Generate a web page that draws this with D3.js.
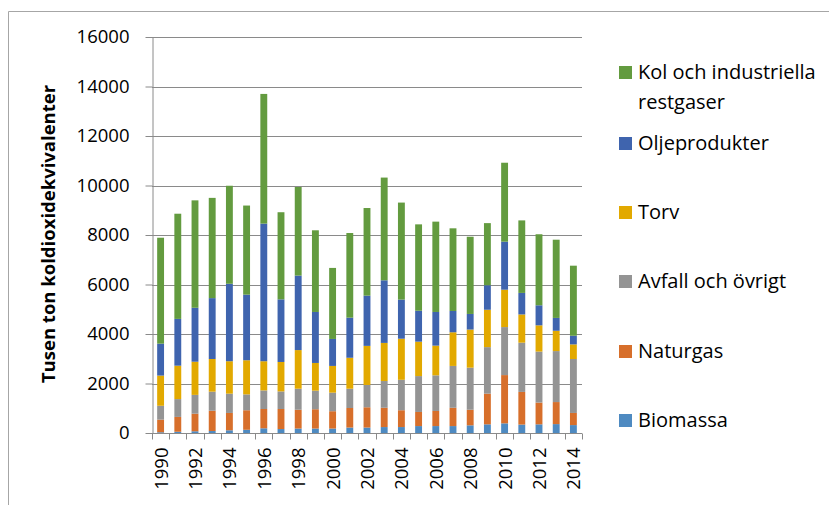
<!DOCTYPE html>
<html>
<head>
<meta charset="utf-8">
<script src="https://cdn.jsdelivr.net/npm/d3@7"></script>
<style>
  body { margin: 0; background: #fff; }
  svg { display: block; font-family: "Open Sans", "Liberation Sans", sans-serif; }
</style>
</head>
<body>
<svg id="chart" width="829" height="505"></svg>
<script>
const years = d3.range(1990, 2015).map(String);
const yTicks = [0, 2000, 4000, 6000, 8000, 10000, 12000, 14000, 16000];

// values, thousand tonnes CO2-eq
const biomassa = [30, 50, 70, 80, 110, 130, 190, 160, 180, 180, 180, 220, 220, 240, 240, 280, 280, 280, 310, 350, 390, 340, 350, 360, 320];
const naturgas = [510, 600, 710, 820, 700, 790, 780, 810, 760, 780, 700, 790, 820, 780, 680, 570, 610, 740, 630, 1240, 1950, 1320, 880, 890, 490];
const avfall = [560, 720, 760, 770, 780, 640, 750, 710, 850, 750, 750, 780, 900, 1080, 1230, 1450, 1440, 1690, 1700, 1880, 1940, 1990, 2060, 2060, 2180];
const torv = [1220, 1350, 1340, 1320, 1310, 1380, 1180, 1190, 1560, 1120, 1080, 1250, 1580, 1540, 1660, 1390, 1200, 1360, 1540, 1510, 1510, 1140, 1060, 820, 590];
const olje = [1290, 1890, 2180, 2460, 3130, 2650, 5560, 2530, 3010, 2060, 1090, 1620, 2030, 2530, 1580, 1250, 1360, 860, 630, 990, 1940, 870, 810, 520, 350];
const kol = [4280, 4250, 4340, 4050, 3960, 3600, 5240, 3520, 3580, 3300, 2870, 3420, 3540, 4150, 3920, 3490, 3650, 3340, 3120, 2510, 3190, 2930, 2870, 3160, 2830];

const series = [
    { key: 'bio', name: 'Biomassa', values: biomassa, color: '#4e8ac1' },
    { key: 'gas', name: 'Naturgas', values: naturgas, color: '#d76f2b' },
    { key: 'avf', name: 'Avfall och övrigt', values: avfall, color: '#949494' },
    { key: 'torv', name: 'Torv', values: torv, color: '#e2a900' },
    { key: 'olje', name: 'Oljeprodukter', values: olje, color: '#3f64ae' },
    { key: 'kol', name: 'Kol och industriella restgaser', values: kol, color: '#639b3f' },
];

const rows = years.map((year, i) => {
    const row = { year };
    series.forEach((s) => { row[s.key] = s.values[i]; });
    return row;
});

const svg = d3.select('#chart');
const plot = { left: 152, right: 582, top: 37, bottom: 433 };
const font = '"Open Sans", sans-serif';

// outer frame (top and left edges only visible)
svg.append('path')
    .attr('d', 'M8.5,505 L8.5,11.5 L829,11.5')
    .attr('fill', 'none')
    .attr('stroke', '#a6a6a6')
    .attr('stroke-width', 1);

const x = d3.scaleBand()
    .domain(years)
    .range([plot.left, plot.right])
    .paddingInner(0.6)
    .paddingOuter(0.3);

const y = d3.scaleLinear()
    .domain([0, 16000])
    .range([plot.bottom, plot.top]);

// gridlines
svg.append('g')
    .selectAll('line')
    .data(yTicks.filter((t) => t > 0))
    .join('line')
    .attr('x1', plot.left)
    .attr('x2', plot.right)
    .attr('y1', (d) => Math.round(y(d)) + 0.5)
    .attr('y2', (d) => Math.round(y(d)) + 0.5)
    .attr('stroke', '#8a8a8a')
    .attr('stroke-width', 1);

const stack = d3.stack().keys(series.map((s) => s.key));
const layers = stack(rows);

svg.append('g')
    .selectAll('g')
    .data(layers)
    .join('g')
    .attr('fill', (d, i) => series[i].color)
    .selectAll('rect')
    .data((d) => d)
    .join('rect')
    .attr('x', (d) => x(d.data.year))
    .attr('width', x.bandwidth())
    .attr('y', (d) => y(d[1]))
    .attr('height', (d) => y(d[0]) - y(d[1]));

// y axis
const yAxis = svg.append('g')
    .attr('transform', `translate(${plot.left + 0.5},0)`)
    .call(d3.axisLeft(y)
        .tickValues(yTicks)
        .tickFormat(d3.format('d'))
        .tickSize(7)
        .tickPadding(16)
        .tickSizeOuter(0));
yAxis.select('.domain').attr('stroke', '#8a8a8a');
yAxis.selectAll('.tick line').attr('stroke', '#8a8a8a');
yAxis.selectAll('.tick text')
    .attr('font-size', 18.5)
    .attr('fill', '#000')
    .attr('font-family', font);

// x axis with category boundary ticks
const step = x.step();
const xAxis = svg.append('g')
    .attr('transform', `translate(0,${plot.bottom + 0.5})`);
xAxis.append('line')
    .attr('x1', plot.left)
    .attr('x2', plot.right)
    .attr('stroke', '#8a8a8a');
xAxis.selectAll('line.tk')
    .data(d3.range(years.length + 1))
    .join('line')
    .attr('class', 'tk')
    .attr('x1', (i) => Math.round(plot.left + i * step) + 0.5)
    .attr('x2', (i) => Math.round(plot.left + i * step) + 0.5)
    .attr('y1', 0)
    .attr('y2', 6)
    .attr('stroke', '#8a8a8a');
xAxis.selectAll('text')
    .data(years.filter((d, i) => i % 2 === 0))
    .join('text')
    .attr('transform', (d) => `translate(${x(d) + x.bandwidth() / 2 + 7},14) rotate(-90)`)
    .attr('text-anchor', 'end')
    .attr('font-size', 18.5)
    .attr('font-family', font)
    .text((d) => d);

// y title
svg.append('text')
    .attr('transform', 'translate(55,234) rotate(-90)')
    .attr('text-anchor', 'middle')
    .attr('font-size', 18.5)
    .attr('font-weight', 'bold')
    .attr('font-family', font)
    .text('Tusen ton koldioxidekvivalenter');

// legend
const legendItems = [
    { s: series[5], y: 72, lines: ['Kol och industriella', 'restgaser'] },
    { s: series[4], y: 143, lines: ['Oljeprodukter'] },
    { s: series[3], y: 212, lines: ['Torv'] },
    { s: series[2], y: 281, lines: ['Avfall och övrigt'] },
    { s: series[1], y: 351, lines: ['Naturgas'] },
    { s: series[0], y: 420, lines: ['Biomassa'] },
];
const legend = svg.append('g');
const item = legend.selectAll('g')
    .data(legendItems)
    .join('g')
    .attr('transform', (d) => `translate(619,${d.y})`);
item.append('rect')
    .attr('x', 0)
    .attr('y', -6)
    .attr('width', 13)
    .attr('height', 13)
    .attr('fill', (d) => d.s.color);
item.append('text')
    .attr('font-size', 20)
    .attr('font-family', font)
    .selectAll('tspan')
    .data((d) => d.lines)
    .join('tspan')
    .attr('x', 19)
    .attr('y', (d, i) => i * 30)
    .attr('dy', '0.35em')
    .text((d) => d);
</script>
</body>
</html>
